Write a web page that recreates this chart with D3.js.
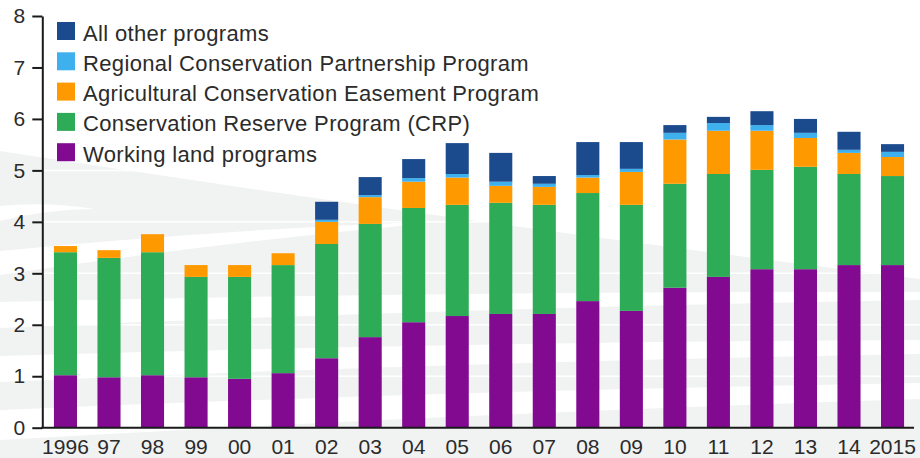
<!DOCTYPE html>
<html lang="en">
	<head>
		<meta charset="utf-8">
		<title>Conservation program spending, 1996-2015</title>
		<script type="text/javascript" src="https://cdn.jsdelivr.net/npm/d3@7"></script>
		<style type="text/css">
			body { margin: 0; background: #ffffff; }
			svg { display: block; }
		</style>
	</head>
	<body>
		<script type="text/javascript">

			//Width and height
			var w = 920;
			var h = 458;

			// data (billion dollars)
			var years = ["1996", "97", "98", "99", "00", "01", "02", "03", "04", "05",
						 "06", "07", "08", "09", "10", "11", "12", "13", "14", "2015"];

			var working = [1.02, 0.98, 1.02, 0.98, 0.95, 1.06, 1.35, 1.76, 2.05, 2.17,
						   2.21, 2.21, 2.46, 2.27, 2.72, 2.93, 3.08, 3.08, 3.16, 3.16];
			var crp     = [2.39, 2.32, 2.39, 1.95, 1.98, 2.10, 2.22, 2.20, 2.22, 2.16,
						   2.16, 2.12, 2.10, 2.06, 2.02, 2.00, 1.93, 1.99, 1.77, 1.73];
			var acep    = [0.12, 0.15, 0.35, 0.23, 0.23, 0.23, 0.43, 0.52, 0.51, 0.53,
						   0.33, 0.35, 0.30, 0.64, 0.86, 0.84, 0.76, 0.56, 0.41, 0.37];
			var rcpp    = [0, 0, 0, 0, 0, 0, 0.04, 0.04, 0.07, 0.07,
						   0.08, 0.06, 0.05, 0.06, 0.13, 0.15, 0.11, 0.10, 0.06, 0.10];
			var other   = [0, 0, 0, 0, 0, 0, 0.35, 0.35, 0.37, 0.60,
						   0.56, 0.15, 0.64, 0.52, 0.15, 0.12, 0.27, 0.27, 0.35, 0.15];

			var yTicks = [0, 1, 2, 3, 4, 5, 6, 7, 8];

			// bottom-up stacking order, legend is listed top-down
			var seriesKeys = ["working", "crp", "acep", "rcpp", "other"];
			var seriesNames = ["Working land programs", "Conservation Reserve Program (CRP)",
							   "Agricultural Conservation Easement Program",
							   "Regional Conservation Partnership Program", "All other programs"];
			var seriesColors = ["#820a91", "#2eab57", "#fe9a00", "#3fb0ee", "#1b4a8d"];

			// table for d3.stack
			var table = years.map(function(y, i) {
				return { year: y, working: working[i], crp: crp[i], acep: acep[i], rcpp: rcpp[i], other: other[i] };
			});

			var stacked = d3.stack().keys(seriesKeys)(table);

			var xScale = d3.scaleBand()
							.domain(years)
							.range([43.7, 914.3])
							.paddingInner(0.47)
							.paddingOuter(0.235);

			var yScale = d3.scaleLinear()
							.domain([0, 8])
							.range([427.7, 16]);

			//Create SVG element
			var svg = d3.select("body")
						.append("svg")
						.attr("width", w)
						.attr("height", h);

			// light grey swoosh behind the plot
			var bg = svg.append("g");
			bg.append("path")
			  .attr("d", "M0,151 Q460,222 920,279 L920,458 L0,458 Z")
			  .attr("fill", "#f1f2f2");

			// white streaks in the swoosh
			var streaks = [
				[0, 206, 95, 209, 15, 0],
				[0, 251, 420, 222, 24, 2],
				[0, 302, 920, 292, 26, 8],
				[0, 356, 920, 340, 26, 14],
				[0, 410, 920, 383, 30, 16]
			];
			bg.selectAll("path.streak")
			  .data(streaks)
			  .enter()
			  .append("path")
			  .attr("class", "streak")
			  .attr("d", function(s) {
					var mx = (s[0] + s[2]) / 2;
					var my = (s[1] + s[3]) / 2 - 6;
					return "M" + s[0] + "," + s[1] +
						   " Q" + mx + "," + my + " " + s[2] + "," + s[3] +
						   " L" + s[2] + "," + (s[3] + s[5]) +
						   " Q" + mx + "," + (my + (s[4] + s[5]) / 2) + " " + s[0] + "," + (s[1] + s[4]) + " Z";
			  })
			  .attr("fill", "#ffffff");

			// white gridlines (only show on the grey)
			svg.append("g")
			   .selectAll("line")
			   .data(yTicks.slice(1))
			   .enter()
			   .append("line")
			   .attr("x1", 42)
			   .attr("x2", w)
			   .attr("y1", function(d) { return yScale(d); })
			   .attr("y2", function(d) { return yScale(d); })
			   .attr("stroke", "#ffffff")
			   .attr("stroke-width", 1.5);

			//Create bars
			var layers = svg.selectAll("g.layer")
							.data(stacked)
							.enter()
							.append("g")
							.attr("class", "layer")
							.attr("fill", function(d, i) { return seriesColors[i]; });

			layers.selectAll("rect")
				  .data(function(d) { return d; })
				  .enter()
				  .append("rect")
				  .attr("x", function(d) { return xScale(d.data.year); })
				  .attr("y", function(d) { return yScale(d[1]); })
				  .attr("width", xScale.bandwidth())
				  .attr("height", function(d) { return yScale(d[0]) - yScale(d[1]); });

			// axes
			var yAxis = d3.axisLeft(yScale)
						  .tickValues(yTicks)
						  .tickSize(10)
						  .tickSizeOuter(0)
						  .tickPadding(7);

			var gy = svg.append("g")
						.attr("transform", "translate(42.3,0)")
						.call(yAxis);

			var xAxis = d3.axisBottom(xScale)
						  .tickSize(0)
						  .tickSizeOuter(0)
						  .tickPadding(11);

			var gx = svg.append("g")
						.attr("transform", "translate(0,427.7)")
						.call(xAxis);

			gx.select(".domain").attr("d", "M41.3,0H914");

			svg.selectAll(".domain, .tick line")
			   .attr("stroke", "#1a1a1a")
			   .attr("stroke-width", 2);

			svg.selectAll(".tick text")
			   .attr("font-family", "'Liberation Sans', Arial, sans-serif")
			   .attr("font-size", "21px")
			   .attr("fill", "#2b2b2b");

			//Legend
			var legendOrder = [4, 3, 2, 1, 0];
			var legend = svg.selectAll("g.legend")
							.data(legendOrder)
							.enter()
							.append("g")
							.attr("class", "legend")
							.attr("transform", function(d, i) {
								return "translate(57," + (22 + i * 30.3) + ")";
							});

			legend.append("rect")
				  .attr("width", 18)
				  .attr("height", 18)
				  .attr("fill", function(d) { return seriesColors[d]; });

			legend.append("text")
				  .attr("x", 26)
				  .attr("y", 18.5)
				  .text(function(d) { return seriesNames[d]; })
				  .attr("font-family", "'Liberation Sans', Arial, sans-serif")
				  .attr("font-size", "22px")
				  .attr("letter-spacing", "0.35px")
				  .attr("fill", "#2b2b2b");

		</script>
	</body>
</html>
